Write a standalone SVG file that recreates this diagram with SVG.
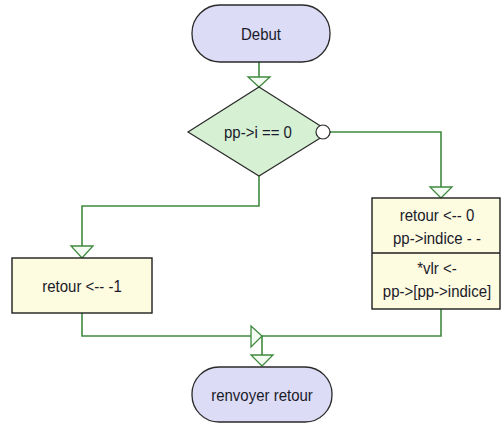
<svg xmlns="http://www.w3.org/2000/svg" width="502" height="423" viewBox="0 0 502 423">
  <style>
    .term { fill: #dcdcf6; stroke: #2a2a2a; stroke-width: 1.3; }
    .dec { fill: #d6f0d4; stroke: #2a2a2a; stroke-width: 1.2; }
    .proc { fill: #fdfbe0; stroke: #1e1e1e; stroke-width: 1.4; }
    .wire { fill: none; stroke: #3f8a3f; stroke-width: 1.6; }
    .head { fill: #f4fbf2; stroke: #3f8a3f; stroke-width: 1.3; }
    .port { fill: #ffffff; stroke: #2a2a2a; stroke-width: 1.2; }
    .lbl { font-family: "Liberation Sans", Arial, sans-serif; font-size: 15px; fill: #1a1a2a; text-anchor: middle; transform-box: fill-box; transform-origin: center; transform: scaleY(1.15); }
  </style>

  <!-- connectors -->
  <g id="connectors">
    <path class="wire" d="M259 62 V77"/>
    <path class="wire" d="M330 132 H441 V187"/>
    <path class="wire" d="M259 176 V206 H82 V246"/>
    <path class="wire" d="M82 313 V336 H251"/>
    <path class="wire" d="M441 309 V336 H262"/>
    <path class="wire" d="M262 336 V355"/>
    <polygon class="head" points="248,77 270,77 259,87"/>
    <polygon class="head" points="430,187 452,187 441,198"/>
    <polygon class="head" points="71,246 93,246 82,258"/>
    <polygon class="head" points="251,326 262,336 251,347"/>
    <polygon class="head" points="251,355 273,355 262,366"/>
  </g>

  <!-- start terminal -->
  <g id="debut">
    <rect class="term" x="192" y="5" width="138" height="57" rx="28" ry="28"/>
    <text class="lbl" x="261" y="39">Debut</text>
  </g>

  <!-- test -->
  <g id="test">
    <polygon class="dec" points="259,87 330,132 259,176 188,132"/>
    <circle class="port" cx="323" cy="132" r="7"/>
    <text class="lbl" x="258" y="137">pp-&gt;i == 0</text>
  </g>

  <!-- false branch -->
  <g id="retour-moins-un">
    <rect class="proc" x="12" y="258" width="140" height="55"/>
    <text class="lbl" x="82" y="291">retour &lt;-- -1</text>
  </g>

  <!-- true branch -->
  <g id="retour-zero">
    <rect class="proc" x="372" y="198" width="128" height="111"/>
    <line x1="372" y1="253" x2="500" y2="253" stroke="#1e1e1e" stroke-width="1.4"/>
    <text class="lbl" x="437" y="220">retour &lt;-- 0</text>
    <text class="lbl" x="437" y="243">pp-&gt;indice - -</text>
    <text class="lbl" x="437" y="273">*vlr &lt;-</text>
    <text class="lbl" x="437" y="296">pp-&gt;[pp-&gt;indice]</text>
  </g>

  <!-- end terminal -->
  <g id="renvoyer">
    <rect class="term" x="192" y="367" width="140" height="55" rx="27" ry="27"/>
    <text class="lbl" x="262" y="400">renvoyer retour</text>
  </g>
</svg>
